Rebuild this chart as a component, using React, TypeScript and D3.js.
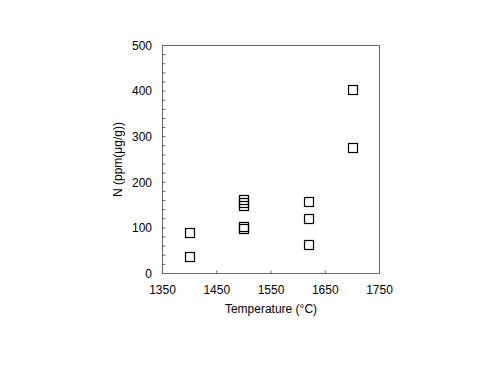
import React from "react";
import * as d3 from "d3";

const temperatures = [1400, 1400, 1500, 1500, 1500, 1500, 1500, 1620, 1620, 1620, 1700, 1700];
const nitrogen = [90, 37, 99, 102, 163, 156, 150, 157, 120, 63, 403, 277];
const xTicks = [1350, 1450, 1550, 1650, 1750];
const yTicks = [0, 100, 200, 300, 400, 500];
const yMinorTicks = d3.range(0, 501, 20);

export default function App() {
  const width = 500, height = 375;
  const left = 162.5, right = 379.5, top = 45.5, bottom = 273.5;
  const x = d3.scaleLinear().domain([1350, 1750]).range([left, right]);
  const y = d3.scaleLinear().domain([0, 500]).range([bottom, top]);
  const font = "'Liberation Sans', Arial, sans-serif";
  const s = 9;
  return (
    <svg width={width} height={height} style={{ position: "absolute", left: 0, top: 0 }}>
      <rect x={0} y={0} width={width} height={height} fill="#fff" />
      {yMinorTicks.map((t) => (
        <line key={"ym" + t} x1={left} x2={left + 3} y1={y(t)} y2={y(t)} stroke="#666" strokeWidth={1} />
      ))}
      {xTicks.map((t) => (
        <line key={"xt" + t} x1={x(t)} x2={x(t)} y1={bottom} y2={bottom - 3} stroke="#666" strokeWidth={1} />
      ))}
      <rect x={left} y={top} width={right - left} height={bottom - top} fill="none" stroke="#666" strokeWidth={1} />
      {yTicks.map((t) => (
        <text key={"yl" + t} x={152} y={y(t)} dy="0.35em" textAnchor="end" fontFamily={font} fontSize={12} fill="#000">
          {t}
        </text>
      ))}
      {xTicks.map((t) => (
        <text key={"xl" + t} x={x(t)} y={294} textAnchor="middle" fontFamily={font} fontSize={12} fill="#000">
          {t}
        </text>
      ))}
      <text x={(left + right) / 2} y={313} textAnchor="middle" fontFamily={font} fontSize={12} fill="#000">
        Temperature (°C)
      </text>
      <text
        transform={`translate(122,${(top + bottom) / 2}) rotate(-90)`}
        textAnchor="middle"
        fontFamily={font}
        fontSize={12}
        fill="#000"
      >
        N (ppm(μg/g))
      </text>
      {temperatures.map((t, i) => (
        <rect
          key={"p" + i}
          x={Math.round(x(t) - s / 2) + 0.5}
          y={Math.round(y(nitrogen[i]) - s / 2) + 0.5}
          width={s}
          height={s}
          fill="#fff"
          fillOpacity={0}
          stroke="#000"
          strokeWidth={1.2}
        />
      ))}
    </svg>
  );
}
